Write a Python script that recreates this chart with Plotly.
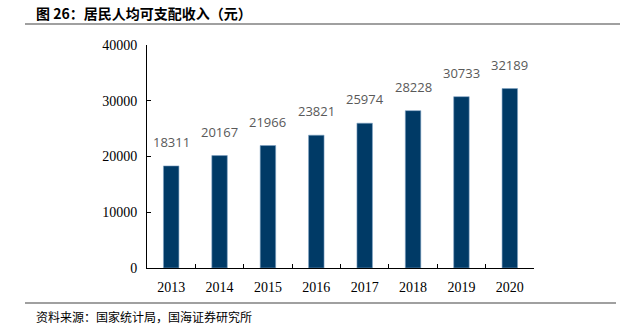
import plotly.graph_objects as go

years = ["2013", "2014", "2015", "2016", "2017", "2018", "2019", "2020"]
income = [18311, 20167, 21966, 23821, 25974, 28228, 30733, 32189]
title_text = "图 26：居民人均可支配收入（元）"
source_text = "资料来源：国家统计局，国海证券研究所"

W, H = 633, 332
L, R, T, B = 147, 534, 45, 268

def px(x):
    return (x - L) / (R - L)

def py(y):
    return 1 - (y - T) / (B - T)

fig = go.Figure()
fig.add_trace(go.Bar(
    x=years, y=income,
    marker=dict(color="#003A66", line=dict(color="#7FA3C4", width=0.6)),
    width=0.32,
    cliponaxis=False,
))

label_annotations = [
    dict(x=i, y=v, xref="x", yref="y", text=str(v), showarrow=False,
         yanchor="middle", xanchor="center", yshift=24,
         font=dict(family="Open Sans, Liberation Sans", size=13, color="#595959"))
    for i, v in enumerate(income)
]

fig.update_layout(
    width=W, height=H,
    margin=dict(l=L, r=W - R, t=T, b=H - B),
    paper_bgcolor="white", plot_bgcolor="white",
    showlegend=False,
    xaxis=dict(
        type="category", categoryorder="array", categoryarray=years,
        range=[-0.5, len(years) - 0.5],
        showline=True, linecolor="black", linewidth=1,
        ticks="inside", ticklen=4, tickcolor="black", tickson="boundaries",
        tickfont=dict(family="Liberation Serif", size=14, color="black"),
        showgrid=False, zeroline=False, ticklabelstandoff=6,
    ),
    yaxis=dict(
        range=[0, 40000], dtick=10000, tickformat="d", showline=True, linecolor="black", linewidth=1,
        ticks="inside", ticklen=4, tickcolor="black",
        tickfont=dict(family="Liberation Serif", size=14, color="black"),
        showgrid=False, zeroline=False, ticklabelstandoff=6,
    ),
    shapes=[
        dict(type="line", xref="paper", yref="paper", x0=px(25), x1=px(620), y0=py(24), y1=py(24),
             line=dict(color="#808080", width=1.5)),
        dict(type="line", xref="paper", yref="paper", x0=px(25), x1=px(616), y0=py(303), y1=py(303),
             line=dict(color="#808080", width=1.5)),
    ],
    annotations=label_annotations + [
        dict(text="<b>" + title_text + "</b>", xref="paper", yref="paper", x=px(34), y=py(13),
             xanchor="left", yanchor="middle", showarrow=False,
             font=dict(family="Noto Sans CJK SC", size=14, color="black")),
        dict(text=source_text, xref="paper", yref="paper", x=px(34), y=py(316),
             xanchor="left", yanchor="middle", showarrow=False,
             font=dict(family="Noto Sans CJK SC", size=12, color="black")),
    ],
)

fig.write_html("out.html")
